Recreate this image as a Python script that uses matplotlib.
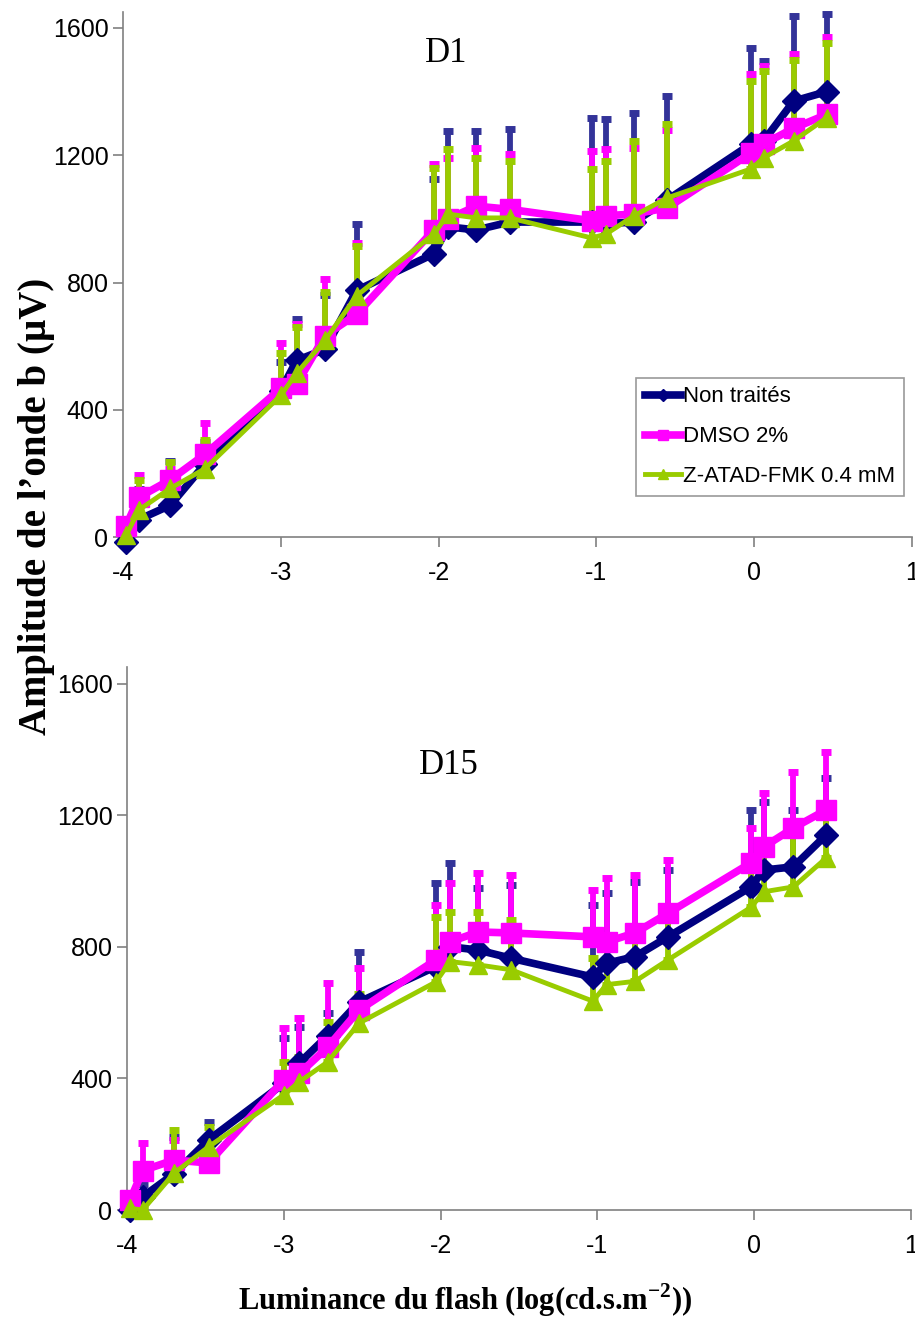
import numpy as np
import matplotlib
matplotlib.use("Agg")
import matplotlib.pyplot as plt

plt.rcParams['mathtext.fontset'] = 'custom'
plt.rcParams['mathtext.rm'] = 'Liberation Serif'
plt.rcParams['mathtext.bf'] = 'Liberation Serif:bold'
plt.rcParams['axes.unicode_minus'] = False

SANS = ['Liberation Sans', 'DejaVu Sans']
SERIF = ['Liberation Serif', 'DejaVu Serif']

# log luminance of the flashes
lum = [-3.98, -3.9, -3.7, -3.48, -3.0, -2.9, -2.72, -2.52, -2.03, -1.94,
       -1.76, -1.55, -1.03, -0.94, -0.76, -0.55, -0.02, 0.06, 0.25, 0.46]

series_names = ['Non traités', 'DMSO 2%', 'Z-ATAD-FMK 0.4 mM']

# D1 : b-wave amplitude (uV) and upper error
d1_non = [-15, 55, 100, 230, 460, 555, 590, 775, 890, 975,
          965, 990, 990, 985, 990, 1060, 1235, 1245, 1370, 1400]
d1_non_err = [10, 95, 140, 70, 90, 130, 170, 208, 235, 300,
              310, 292, 327, 328, 343, 326, 301, 250, 266, 245]
d1_dmso = [35, 125, 180, 260, 467, 480, 633, 700, 965, 1000,
           1040, 1030, 994, 1010, 1015, 1035, 1207, 1235, 1285, 1328]
d1_dmso_err = [20, 70, 35, 97, 144, 190, 177, 225, 207, 192,
               182, 174, 219, 210, 208, 245, 247, 245, 232, 245]
d1_zatad = [5, 85, 153, 215, 445, 515, 618, 758, 952, 1015,
            1003, 1003, 940, 952, 1010, 1066, 1157, 1192, 1245, 1318]
d1_zatad_err = [15, 95, 82, 90, 135, 145, 152, 157, 208, 205,
                187, 179, 217, 230, 235, 232, 275, 272, 255, 234]

# D15
d15_non = [0, 40, 110, 213, 385, 447, 530, 632, 740, 800,
           790, 765, 708, 750, 770, 830, 982, 1033, 1043, 1140]
d15_non_err = [10, 40, 112, 55, 137, 110, 70, 153, 255, 255,
               190, 223, 219, 213, 227, 203, 234, 207, 173, 173]
d15_dmso = [30, 120, 152, 143, 395, 415, 495, 608, 760, 815,
            845, 842, 830, 815, 842, 902, 1055, 1103, 1161, 1216]
d15_dmso_err = [15, 83, 60, 60, 158, 168, 195, 127, 167, 180,
                179, 176, 143, 193, 176, 162, 106, 164, 170, 176]
d15_zatad = [5, 0, 112, 192, 350, 390, 450, 568, 693, 755,
             745, 730, 635, 685, 695, 760, 920, 967, 982, 1070]
d15_zatad_err = [10, 10, 131, 60, 100, 75, 120, 87, 197, 150,
                 160, 150, 130, 140, 140, 150, 140, 150, 160, 150]

line_cols = ['#000080', '#FF00FF', '#99CC00']
err_cols = ['#333399', '#FF00FF', '#99CC00']
markers = ['D', 's', '^']
msizes = [12, 14, 13]
lws = [5.5, 5.5, 3.5]

fig = plt.figure(figsize=(9.15, 13.36), dpi=100)
ax1 = fig.add_axes([0.1344, 0.598, 0.8623, 0.393])
ax2 = fig.add_axes([0.1388, 0.0943, 0.8568, 0.4064])


def draw(ax, vals, errs, title, tx, ty, legend=False):
    x = np.array(lum)
    for i in range(3):
        y = np.array(vals[i])
        e = np.array(errs[i])
        ax.errorbar(x, y, yerr=[np.zeros_like(e), e], fmt='none',
                    ecolor=err_cols[i], elinewidth=4.2, capsize=3.5,
                    capthick=5, zorder=2 + i * 0.1, clip_on=False)
    for i in range(3):
        ax.plot(x, vals[i], color=line_cols[i], lw=lws[i], marker=markers[i],
                ms=msizes[i], mec=line_cols[i], mfc=line_cols[i],
                label=series_names[i], zorder=3 + i * 0.1, clip_on=False)
    ax.set_xlim(-4, 1)
    ax.set_ylim(0, 1650)
    ax.set_xticks([-4, -3, -2, -1, 0, 1])
    ax.set_yticks([0, 400, 800, 1200, 1600])
    for s in ['top', 'right']:
        ax.spines[s].set_visible(False)
    for s in ['left', 'bottom']:
        ax.spines[s].set_color('#808080')
        ax.spines[s].set_linewidth(1.2)
    ax.tick_params(colors='#808080', length=7, width=1.2, labelcolor='black')
    for lab in ax.get_xticklabels() + ax.get_yticklabels():
        lab.set_family(SANS)
        lab.set_fontsize(18)
    ax.tick_params(axis='x', pad=10)
    ax.text(tx, ty, title, family=SERIF, fontsize=25, ha='center',
            va='center', transform=ax.transData)
    if legend:
        leg = ax.legend(loc='lower right', bbox_to_anchor=(0.99, 0.078),
                        prop={'family': SANS, 'size': 16}, frameon=True,
                        fancybox=False, handlelength=1.6, handletextpad=0.1,
                        borderpad=0.4, labelspacing=0.85, borderaxespad=0,
                        markerscale=0.55)
        leg.get_frame().set_edgecolor('#808080')
        leg.get_frame().set_linewidth(1.2)


draw(ax1, [d1_non, d1_dmso, d1_zatad], [d1_non_err, d1_dmso_err, d1_zatad_err],
     'D1', -1.95, 1520, legend=True)
draw(ax2, [d15_non, d15_dmso, d15_zatad], [d15_non_err, d15_dmso_err, d15_zatad_err],
     'D15', -1.95, 1350)

fig.text(0.040, 0.621, 'Amplitude de l’onde b (µV)', family=SERIF,
         fontweight='bold', fontsize=28, rotation=90, ha='center', va='center')
fig.text(0.508, 0.027, r'Luminance du flash (log(cd.s.m$^{\mathbf{-2}}$))',
         family=SERIF, fontweight='bold', fontsize=22, ha='center', va='center')

fig.savefig('out.png', dpi=100)
